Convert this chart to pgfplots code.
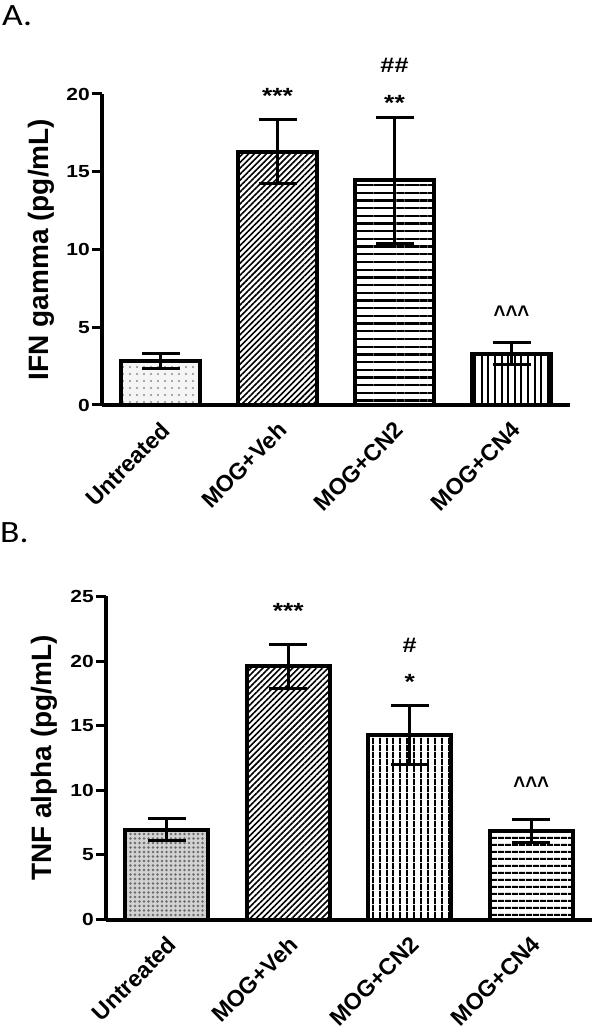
\documentclass[border=0pt]{standalone}
\usepackage{fontspec}
\setmainfont{Liberation Sans}
\newfontfamily\hfont{Liberation Sans}[FakeStretch=1.2]
\newfontfamily\cfont{Liberation Sans}[FakeStretch=0.85]
\newfontfamily\carlito{Carlito}[FakeStretch=1.15]
\usepackage{pgfplots}
\pgfplotsset{compat=1.18}
\usetikzlibrary{patterns.meta}

\pgfplotsset{
 panel/.style={
  scale only axis, axis lines=left, axis line style={-, line width=4pt},
  xmin=-0.5, xmax=3.5, ymin=0,
  xtick={0,1,2,3}, xticklabels={Untreated,MOG+Veh,MOG+CN2,MOG+CN4},
  xtick style={draw=none},
  ytick style={line width=3pt, black}, tick align=outside, major tick length=10pt,
  /pgf/number format/assume math mode=true,
  yticklabel style={font=\hfont\bfseries\fontsize{17.5}{17.5}\selectfont, inner sep=2pt},
  xticklabel style={font=\bfseries\fontsize{23}{23}\selectfont, xshift=-1pt, yshift=-5pt, rotate=45, anchor=north east, inner sep=0pt},
  ylabel style={font=\bfseries\fontsize{28}{28}\selectfont, anchor=center},
  clip=false,
 },
 bar/.style={ybar, bar width=0.68, bar shift=0pt, draw=black, line width=4pt, fill=white},
 eb/.style={only marks, mark=none, forget plot, error bars/.cd, y dir=both, y explicit,
   error mark=|,
   error bar style={line width=3pt, black}, error mark options={line width=3pt, mark size=19pt, black}},
}
\tikzset{
 ann/.style={font=\hfont\bfseries\fontsize{22}{22}\selectfont, anchor=north, inner sep=0pt},
 car/.style={font=\cfont\bfseries\fontsize{24}{24}\selectfont, anchor=north, inner sep=0pt},
}

\begin{document}
\begin{tikzpicture}
\path[use as bounding box] (0,0) rectangle (595pt,1032pt);

% Panel labels
\node[anchor=north west, inner sep=0pt, font=\carlito\fontsize{31}{31}\selectfont] at (2pt,1027pt) {A.};
\node[anchor=north west, inner sep=0pt, font=\carlito\fontsize{31}{31}\selectfont] at (0pt,510pt) {B.};

% Panel A
\begin{axis}[panel, at={(102pt,627pt)}, anchor=south west, width=468pt, height=311pt,
  ymax=20, ytick={0,5,10,15,20}, ylabel={IFN gamma (pg/mL)},
  ylabel style={at={(axis description cs:-0.13,0.5)}}]
\addplot[bar, fill=gray!8, postaction={pattern={Dots[distance=6.5pt, radius=1.2pt]}, pattern color=gray!90}] coordinates {(0,2.83)};
\addplot[bar, postaction={pattern={Lines[angle=45, distance=4.2pt, line width=1.6pt]}, pattern color=black}] coordinates {(1,16.3)};
\addplot[bar, postaction={pattern={Lines[angle=0, distance=7.7pt, line width=2.3pt]}, pattern color=black}] coordinates {(2,14.45)};
\addplot[bar, postaction={pattern={Lines[angle=90, distance=6.6pt, line width=2pt]}, pattern color=black}] coordinates {(3,3.3)};
\addplot[eb] coordinates {(0,2.83) +- (0,0.5) (1,16.3) +- (0,2.05) (2,14.45) +- (0,4.05) (3,3.3) +- (0,0.7)};
\node[ann] at (axis cs:1,20.4) {***};
\node[ann] at (axis cs:2,19.9) {**};
\node[ann, font=\hfont\bfseries\fontsize{21}{21}\selectfont] at (axis cs:2,22.3) {\#\#};
\node[car] at (axis cs:3,6.37) {\textasciicircum\textasciicircum\textasciicircum};
\end{axis}

% Panel B
\begin{axis}[panel, at={(106pt,112.5pt)}, anchor=south west, width=486pt, height=323pt,
  ymax=25, ytick={0,5,10,15,20,25}, ylabel={TNF alpha (pg/mL)},
  ylabel style={at={(axis description cs:-0.127,0.5)}}]
\addplot[bar, fill=gray!35, postaction={pattern={Dots[distance=4.5pt, radius=1.4pt]}, pattern color=gray!85!black}] coordinates {(0,6.95)};
\addplot[bar, postaction={pattern={Lines[angle=45, distance=4.2pt, line width=1.6pt]}, pattern color=black}] coordinates {(1,19.6)};
\addplot[bar, postaction={pattern={Lines[angle=90, distance=6.5pt, line width=2pt]}, pattern color=black}] coordinates {(2,14.3)};
\addplot[bar, postaction={pattern={Lines[angle=0, distance=6.5pt, line width=2.2pt]}, pattern color=black}] coordinates {(3,6.85)};
\addplot[eb] coordinates {(0,6.95) +- (0,0.85) (1,19.6) +- (0,1.7) (2,14.3) +- (0,2.3) (3,6.85) +- (0,0.9)};
\node[ann] at (axis cs:1,24.45) {***};
\node[ann, font=\hfont\bfseries\fontsize{21}{21}\selectfont] at (axis cs:2,21.75) {\#};
\node[ann] at (axis cs:2,19.0) {*};
\node[car] at (axis cs:3,11.05) {\textasciicircum\textasciicircum\textasciicircum};
\end{axis}
\end{tikzpicture}
\end{document}
